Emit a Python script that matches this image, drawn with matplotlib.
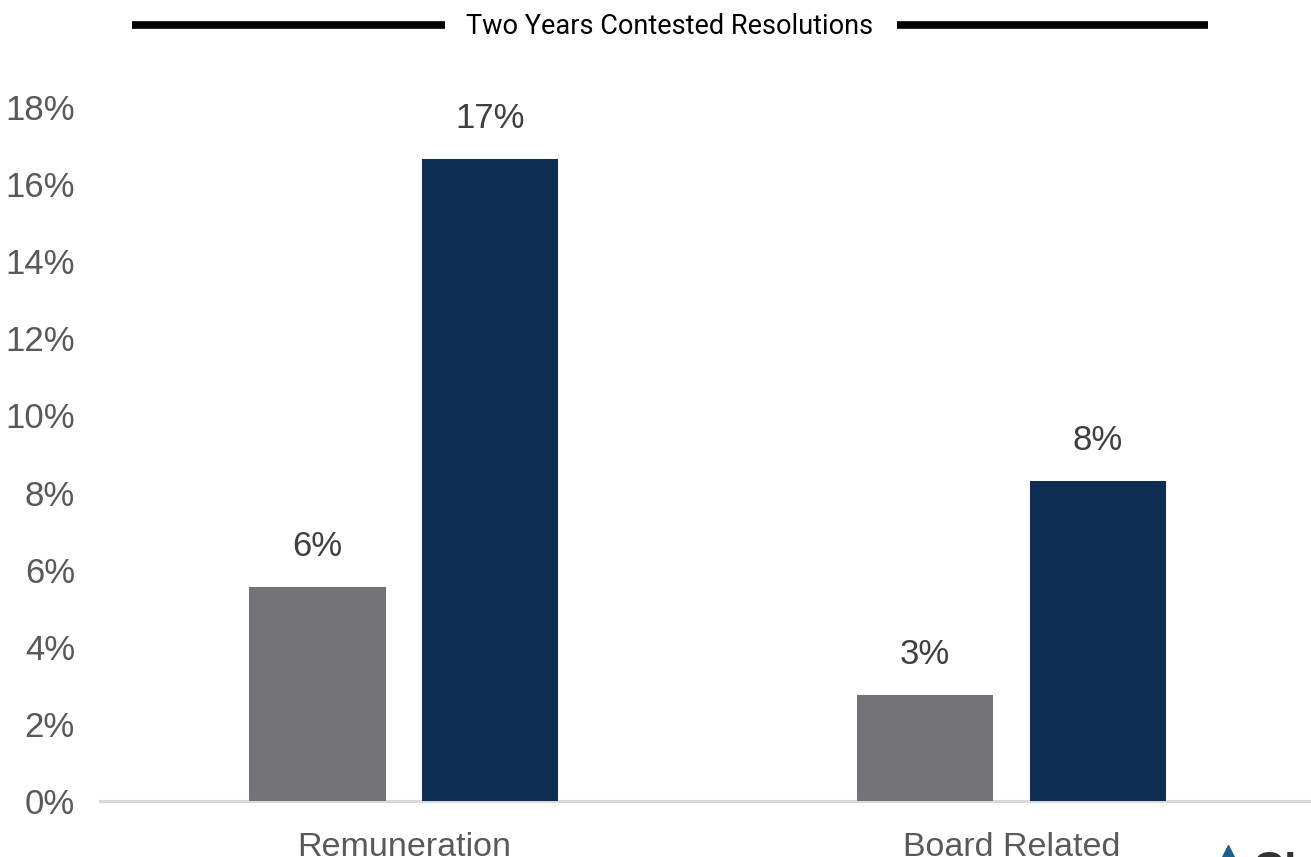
import matplotlib.pyplot as plt
import numpy as np
from matplotlib.lines import Line2D
from matplotlib import rcParams

rcParams['font.family'] = ['Liberation Sans', 'DejaVu Sans']

categories = ['Remuneration', 'Board Related']
first_year = [5.55, 2.75]
second_year = [16.65, 8.3]
y_ticks = [0, 2, 4, 6, 8, 10, 12, 14, 16, 18]

gray = '#747378'
navy = '#0f2d52'

fig = plt.figure(figsize=(13.11, 8.57), dpi=100)
ax = fig.add_axes([100 / 1311, 1 - 801 / 857, 1211 / 1311, (801 - 107) / 857])

x = np.arange(len(categories))
width = 0.224
offset = 0.142

bars1 = ax.bar(x - offset, first_year, width, color=gray, zorder=2)
bars2 = ax.bar(x + offset, second_year, width, color=navy, zorder=2)

# Value labels above every bar
for bars in (bars1, bars2):
    for b in bars:
        v = b.get_height()
        ax.annotate(f'{v:.0f}%', (b.get_x() + b.get_width() / 2, v),
                    xytext=(0, 17), textcoords='offset points',
                    ha='center', va='bottom', fontsize=25, color='#404040')

ax.set_xlim(-0.5, 1.493)
ax.set_ylim(0, 18)
ax.set_yticks(y_ticks)
ax.set_yticklabels([f'{t}%' for t in y_ticks])
ax.set_xticks(x)
ax.set_xticklabels(categories)
ax.tick_params(axis='y', length=0, pad=18, labelsize=25, labelcolor='#595959')
ax.tick_params(axis='x', length=0, pad=22, labelsize=24.5, labelcolor='#595959')

for side in ['top', 'right', 'left']:
    ax.spines[side].set_visible(False)
ax.spines['bottom'].set_color('#d9d9d9')
ax.spines['bottom'].set_linewidth(2.2)
ax.spines['bottom'].set_zorder(1)

# Header: title flanked by two thick rules
fig.text(670 / 1311, 1 - 26 / 857, 'Two Years Contested Resolutions',
         ha='center', va='center', fontsize=19.5, family='Roboto', color='black')
fig.add_artist(Line2D([132 / 1311, 445 / 1311], [1 - 25 / 857] * 2,
                      color='black', lw=5.5, solid_capstyle='butt'))
fig.add_artist(Line2D([897 / 1311, 1208 / 1311], [1 - 25 / 857] * 2,
                      color='black', lw=5.5, solid_capstyle='butt'))

# Corner logo fragment
fig.add_artist(Line2D([1228 / 1311], [1 - 853 / 857], marker='^', markersize=11,
                      color='#1f5f8b', linestyle='none'))
fig.text(1252 / 1311, 1 - 870 / 857, 'GL', ha='left', va='center',
         fontsize=30, fontweight='bold', color='#333333')

fig.savefig('out.png', dpi=100)
